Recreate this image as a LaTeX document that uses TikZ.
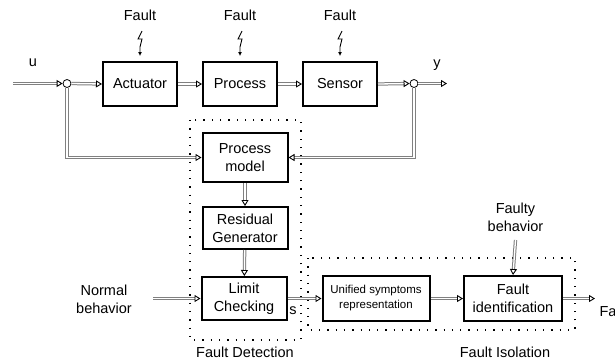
\documentclass[tikz,border=0pt]{standalone}
\usepackage{fontspec}
\setmainfont{Liberation Sans}
\usetikzlibrary{arrows.meta,positioning}

\begin{document}
\begin{tikzpicture}[x = 1pt, y = -1pt,
    every node/.style = {font = \fontsize{14.5}{18}\selectfont, align = center},
    block/.style = {draw, line width = 2pt, fill = white, inner sep = 2pt},
    sum/.style = {circle, draw, fill = white, line width = 0.8pt, minimum size = 8pt, inner sep = 0pt},
    flow/.style = {draw = black!50, line width = 1pt, double = white, double distance = 1.3pt,
        -{Triangle[open, length = 6pt, width = 7pt, line width = 0.9pt, black]}},
    region/.style = {line width = 1.3pt, dash pattern = on 1.3pt off 7pt},
    bolt/.style = {line width = 0.9pt, -{Latex[length = 4pt, width = 4pt]}}]
    \useasboundingbox (0,0) rectangle (615,360);
    \clip (0,0) rectangle (615,360);

    \node[block, minimum width = 74pt, minimum height = 44pt] (act) at (140,84) {Actuator};
    \node[block, minimum width = 74pt, minimum height = 44pt] (proc) at (240,84) {Process};
    \node[block, minimum width = 74pt, minimum height = 44pt] (sens) at (340,84) {Sensor};
    \node[sum] (c1) at (67,83.5) {};
    \node[sum] (c2) at (414,83.5) {};
    \coordinate (uin) at (13,83.5);
    \coordinate (yout) at (447,83.5);
    \node (u) at (33,63) {u};
    \node (y) at (437,65) {y};

    \foreach \b in {act, proc, sens} {
        \node (f\b) at ([yshift = 46pt]\b.north) {Fault};
        \draw[bolt] ([shift = {(2pt,30pt)}]\b.north) -- ++(-4pt,-8pt) -- ++(4pt,0pt)
            -- ++(-2pt,-8pt) -- ([yshift = 5pt]\b.north);
    }

    \node[block, minimum width = 85pt, minimum height = 49pt] (pm) at (245,157.5) {Process\\model};
    \node[block, minimum width = 85pt, minimum height = 42pt] (rg) at (245,228) {Residual\\Generator};
    \node[block, minimum width = 85pt, minimum height = 43pt] (lc) at (244,298.5) {Limit\\Checking};
    \node[block, minimum width = 107pt, minimum height = 45pt, font = \fontsize{11.5}{15}\selectfont]
        (usr) at (376,298.5) {Unified symptoms\\representation};
    \node[block, minimum width = 98pt, minimum height = 45pt] (fid) at (513,298.5) {Fault\\identification};

    \node (nb) at (104,299) {Normal\\behavior};
    \coordinate (nbin) at (153,298.5);
    \node (fb) at (515.5,217) {Faulty\\behavior};
    \coordinate (fbin) at (515.5,240);
    \coordinate (fout) at (595,298.5);
    \node[anchor = west] (fl) at (596,311) {Fault};
    \node (s) at (293,311) {s};

    \draw[region] (190,120) rectangle (301,340);
    \draw[region] (308,258) rectangle (575,330);
    \node (fd) at (245,352) {Fault Detection};
    \node (fi) at (505,352) {Fault Isolation};

    \draw[flow] (uin) -- (c1.west);
    \draw[flow] (c1.east) -- (act.west);
    \draw[flow] (act) -- (proc);
    \draw[flow] (proc) -- (sens);
    \draw[flow] (sens.east) -- (c2.west);
    \draw[flow] (c2.east) -- (yout);
    \draw[flow] (c1.south) |- (pm.west);
    \draw[flow] (c2.south) |- (pm.east);
    \draw[flow] (pm) -- (rg);
    \draw[flow] (rg) -- (lc);
    \draw[flow] (nbin) -- (lc.west);
    \draw[flow] (lc) -- (usr);
    \draw[flow] (usr) -- (fid);
    \draw[flow] (fbin) -- (fid.north);
    \draw[flow] (fid.east) -- (fout);
\end{tikzpicture}
\end{document}
